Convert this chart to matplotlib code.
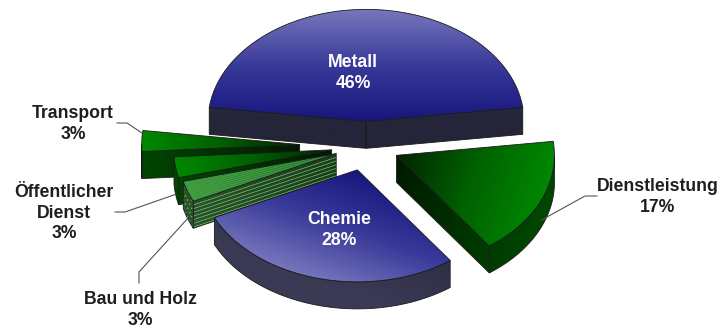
import numpy as np
import matplotlib.pyplot as plt
from matplotlib.patches import Polygon
from matplotlib.colors import LinearSegmentedColormap

SECTORS = ["Metall", "Dienstleistung", "Chemie", "Bau und Holz", "Öffentlicher\nDienst", "Transport"]
SHARES = [46, 17, 28, 3, 3, 3]

# layout / style
EXPLODE = [0.22, 0.21, 0.22, 0.20, 0.22, 0.42]
KIND = ["blue", "green", "blue", "hatch", "green", "green"]
LABEL_POS = [(353, 73), (658, 197), (339, 230), (140, 310), (64, 213), (73, 124)]
LABEL_COLOR = ["white", "#1e1e1e", "white", "#1e1e1e", "#1e1e1e", "#1e1e1e"]
LEADER = [None, ((597, 196), (585, 196), 0.75), None, ((139, 283), (139, 272), 1.0),
          ((115, 212), (125, 212), 1.0), ((117, 123), (127, 123), -0.3)]

CX, CY = 366, 146
RX, RY, DEPTH = 158, 112, 27
EDGE = "#1a1a1a"

CMAPS = {
    "blue": (LinearSegmentedColormap.from_list("bt", ["#16167e", "#3a3a9a", "#7676bd"]),
             LinearSegmentedColormap.from_list("bs", ["#25253a", "#3a3a55"])),
    "green": (LinearSegmentedColormap.from_list("gt", ["#002400", "#006000", "#008800"]),
              LinearSegmentedColormap.from_list("gs", ["#001a00", "#004600"])),
    "hatch": (LinearSegmentedColormap.from_list("ht", ["#23702a", "#3a983a"]),
              LinearSegmentedColormap.from_list("hs", ["#173e17", "#285628"])),
}

plt.rcParams["hatch.linewidth"] = 0.6

fig = plt.figure(figsize=(7.22, 3.31), dpi=100)
ax = fig.add_axes([0, 0, 1, 1])


def arc(vx, vy, t0, t1, n=60):
    th = np.radians(np.linspace(t0, t1, n))
    return np.column_stack([vx + RX * np.cos(th), vy - RY * np.sin(th)])


def grad_patch(verts, origin, direction, span, cmap, z):
    verts = np.asarray(verts)
    poly = Polygon(verts, closed=True, facecolor="none", edgecolor=EDGE, lw=0.6, zorder=z + 0.2)
    ax.add_patch(poly)
    x0, y0 = verts.min(0)
    x1, y1 = verts.max(0)
    xs = np.linspace(x0, x1, int(x1 - x0) + 2)
    ys = np.linspace(y0, y1, int(y1 - y0) + 2)
    X, Y = np.meshgrid(xs, ys)
    t = ((X - origin[0]) * direction[0] + (Y - origin[1]) * direction[1]) / span
    im = ax.imshow(np.clip(t, 0, 1), extent=(x0, x1, y1, y0), origin="upper", cmap=cmap,
                   vmin=0, vmax=1, interpolation="bilinear", aspect="auto", zorder=z)
    im.set_clip_path(poly)
    return poly


def line_hatch(poly, direction, step, color, lw, z):
    verts = poly.get_xy()
    c = verts.mean(0)
    d = np.asarray(direction, dtype=float)
    d /= np.hypot(*d)
    n = np.array([-d[1], d[0]])
    reach = np.hypot(*(verts.max(0) - verts.min(0)))
    for k in np.arange(-reach, reach, step):
        p = c + n * k
        ln, = ax.plot([p[0] - d[0] * reach, p[0] + d[0] * reach],
                      [p[1] - d[1] * reach, p[1] + d[1] * reach],
                      color=color, lw=lw, zorder=z + 0.1, solid_capstyle="butt")
        ln.set_clip_path(poly)


shares = np.array(SHARES, dtype=float)
start = 90 + shares[0] / 2 * 3.6
hi = start - 3.6 * np.concatenate([[0], np.cumsum(shares)[:-1]])
lo = hi - 3.6 * shares
mid = (hi + lo) / 2

order = np.argsort(-np.sin(np.radians(mid)))
for rank, i in enumerate(order):
    m = np.radians(mid[i])
    vx = CX + EXPLODE[i] * RX * np.cos(m)
    vy = CY - EXPLODE[i] * RY * np.sin(m)
    top = np.vstack([[vx, vy], arc(vx, vy, lo[i], hi[i])])
    d = np.array([RX * np.cos(m), -RY * np.sin(m)])
    d /= np.hypot(*d)
    span = max(((top - [vx, vy]) @ d).max(), 1)
    top_cmap, side_cmap = CMAPS[KIND[i]]
    hatched = KIND[i] == "hatch"
    z = 10 + rank * 10
    down = np.array([0, DEPTH])

    # radial faces
    if np.cos(np.radians(lo[i])) > 0:
        p = arc(vx, vy, lo[i], lo[i], 1)[0]
        f = grad_patch([[vx, vy], p, p + down, [vx, vy] + down], (vx, vy), d, span, side_cmap, z)
        if hatched:
            line_hatch(f, p - [vx, vy], 3.5, "#8fc08f", 0.45, z)
    if np.cos(np.radians(hi[i])) < 0:
        p = arc(vx, vy, hi[i], hi[i], 1)[0]
        f = grad_patch([p, [vx, vy], [vx, vy] + down, p + down], (vx, vy), d, span, side_cmap, z)
        if hatched:
            line_hatch(f, p - [vx, vy], 3.5, "#8fc08f", 0.45, z)

    # outer curved side
    a0, a1 = max(lo[i], -180), min(hi[i], 0)
    if a1 > a0:
        rim = arc(vx, vy, a0, a1)
        f = grad_patch(np.vstack([rim, (rim + down)[::-1]]), (vx, vy), d, span, side_cmap, z + 1)
        if hatched:
            ax.add_patch(Polygon(f.get_xy(), closed=True, facecolor="none", edgecolor="#6f9a6f",
                                 lw=0, hatch="....", zorder=z + 1.1))

    f = grad_patch(top, (vx, vy), d, span, top_cmap, z + 3)
    if hatched:
        line_hatch(f, d, 2.0, "#52a852", 0.4, z + 3)

    tx, ty = LABEL_POS[i]
    ax.text(tx, ty, f"{SECTORS[i]}\n{SHARES[i]}%", ha="center", va="center",
            multialignment="center", color=LABEL_COLOR[i], fontsize=12.7, fontweight="bold",
            family="Liberation Sans", linespacing=1.3, zorder=200)

    if LEADER[i] is not None:
        p0, p1, drop = LEADER[i]
        anchor = arc(vx, vy, mid[i], mid[i], 1)[0] + [0, drop * DEPTH]
        ax.plot([p0[0], p1[0], anchor[0]], [p0[1], p1[1], anchor[1]], color="#555555",
                lw=0.8, zorder=150)

ax.set_xlim(0, 722)
ax.set_ylim(331, 0)
ax.axis("off")
fig.savefig("out.png", dpi=100)
